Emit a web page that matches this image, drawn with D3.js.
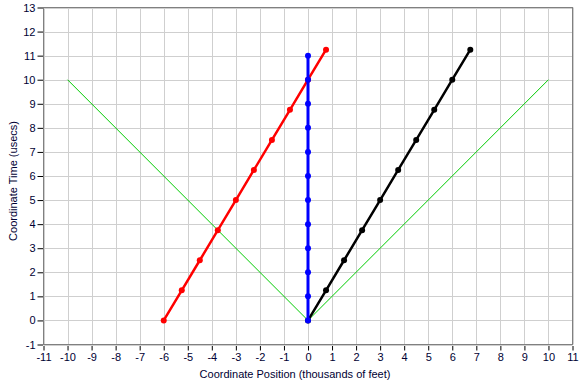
<!DOCTYPE html>
<html><head><meta charset="utf-8">
<script src="https://cdn.jsdelivr.net/npm/d3@7"></script>
<style>body{margin:0;background:#fff}svg{display:block}text{font-family:"Liberation Sans",Arial,sans-serif;font-size:11px;fill:#000033}</style>
</head><body><svg id="c" width="585" height="383"></svg>
<script>
const xTicks = [-11,-10,-9,-8,-7,-6,-5,-4,-3,-2,-1,0,1,2,3,4,5,6,7,8,9,10,11];
const yTicks = [-1,0,1,2,3,4,5,6,7,8,9,10,11,12,13];
const redX = [-6,-5.25,-4.5,-3.75,-3,-2.25,-1.5,-0.75,0,0.75];
const redT = [0,1.25,2.5,3.75,5,6.25,7.5,8.75,10,11.25];
const blackX = [0,0.75,1.5,2.25,3,3.75,4.5,5.25,6,6.75];
const blackT = [0,1.25,2.5,3.75,5,6.25,7.5,8.75,10,11.25];
const blueX = [0,0,0,0,0,0,0,0,0,0,0,0];
const blueT = [0,1,2,3,4,5,6,7,8,9,10,11];
const greenX = [-10,0,10];
const greenT = [10,0,10];

const svg = d3.select("#c");
const L=43.5,R=572.5,T=7.5,B=344.5;
const x = d3.scaleLinear().domain([-11,11]).range([L,R]);
const y = d3.scaleLinear().domain([-1,13]).range([B,T]);

const g = svg.append("g");
g.selectAll(".gx").data(xTicks).join("line").attr("x1",d=>Math.round(x(d))+0.5).attr("x2",d=>Math.round(x(d))+0.5).attr("y1",T).attr("y2",B).attr("stroke","#cfcfcf");
g.selectAll(".gy").data(yTicks).join("line").attr("y1",d=>Math.round(y(d))+0.5).attr("y2",d=>Math.round(y(d))+0.5).attr("x1",L).attr("x2",R).attr("stroke","#cfcfcf");
svg.append("rect").attr("x",L).attr("y",T).attr("width",R-L).attr("height",B-T).attr("fill","none").attr("stroke","#808080");

const fmt = d=>String(d);
const xa = svg.append("g").attr("transform",`translate(0,${B})`).call(d3.axisBottom(x).tickValues(xTicks).tickSize(6).tickPadding(3).tickFormat(fmt));
const ya = svg.append("g").attr("transform",`translate(${L},0)`).call(d3.axisLeft(y).tickValues(yTicks).tickSize(6).tickPadding(2).tickFormat(fmt));
[xa,ya].forEach(a=>{a.select(".domain").remove();a.selectAll(".tick line").attr("stroke","#000");a.selectAll("text").attr("font-family",null).attr("font-size",null).attr("fill","#000033");});
xa.selectAll(".tick line").attr("y1",1.5);
ya.selectAll(".tick line").attr("x1",-0.5);

const line = d3.line().x(d=>x(d[0])).y(d=>y(d[1]));
svg.append("clipPath").attr("id","cp").append("rect").attr("x",L).attr("y",T).attr("width",R-L).attr("height",B-T);
const pg = svg.append("g").attr("clip-path","url(#cp)");

function series(xs,ts,color,w,markers){
  const pts = xs.map((v,i)=>[v,ts[i]]);
  pg.append("path").datum(pts).attr("d",line).attr("fill","none").attr("stroke",color).attr("stroke-width",w);
  if(markers) pg.selectAll(null).data(pts).join("circle").attr("cx",d=>x(d[0])).attr("cy",d=>y(d[1])).attr("r",3).attr("fill",color);
}
series(greenX,greenT,"#00cc00",1,false);
series(redX,redT,"#ff0000",2.5,true);
series(blackX,blackT,"#000000",2.5,true);
series(blueX,blueT,"#0000ff",3,true);

svg.append("text").attr("x",295).attr("y",378).attr("text-anchor","middle").text("Coordinate Position (thousands of feet)");
svg.append("text").attr("transform","translate(17,181) rotate(-90)").attr("text-anchor","middle").text("Coordinate Time (usecs)");
</script></body></html>
